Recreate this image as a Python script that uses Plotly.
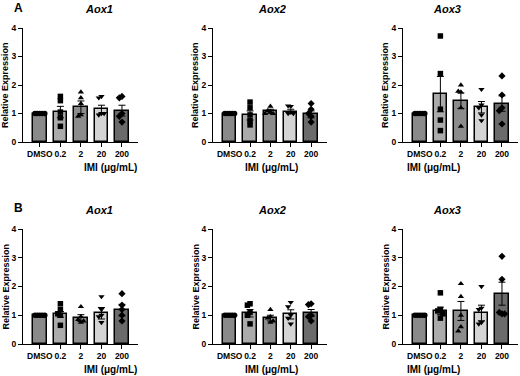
import plotly.graph_objects as go

categories = ["DMSO", "0.2", "2", "20", "200"]
yticks = [0, 1, 2, 3, 4]
panel_titles = ["Aox1", "Aox2", "Aox3"]
row_labels = ["A", "B"]

# mean values
A_aox1_mean = [1.0, 1.05, 1.22, 1.15, 1.10]
A_aox2_mean = [1.0, 0.93, 1.08, 1.07, 0.97]
A_aox3_mean = [1.0, 1.68, 1.45, 1.22, 1.35]
B_aox1_mean = [1.0, 1.03, 0.90, 1.07, 1.18]
B_aox2_mean = [1.0, 1.07, 0.90, 1.03, 1.08]
B_aox3_mean = [1.0, 1.15, 1.15, 1.08, 1.75]

# SEM values
A_aox1_sem = [0.0, 0.20, 0.22, 0.14, 0.19]
A_aox2_sem = [0.0, 0.16, 0.07, 0.08, 0.12]
A_aox3_sem = [0.0, 0.62, 0.27, 0.20, 0.27]
B_aox1_sem = [0.0, 0.10, 0.12, 0.20, 0.20]
B_aox2_sem = [0.0, 0.13, 0.10, 0.16, 0.12]
B_aox3_sem = [0.0, 0.13, 0.33, 0.27, 0.40]

# individual replicate points per group
A_aox1_pts = [[1, 1, 1, 1, 1], [1.6, 1.45, 1.05, 0.85, 0.55], [1.75, 1.55, 1.35, 0.95, 0.9],
              [1.6, 1.55, 1.0, 0.95, 1.0], [1.6, 1.55, 1.0, 0.9, 0.7]]
A_aox2_pts = [[1, 1, 1, 1, 1], [1.4, 1.2, 0.95, 0.75, 0.6], [1.25, 1.1, 1.05, 1.0, 1.0],
              [1.25, 1.27, 1.05, 1.0, 1.0], [1.35, 1.15, 1.0, 0.9, 0.7]]
A_aox3_pts = [[1, 1, 1, 1, 1], [3.72, 2.4, 1.15, 0.77, 0.4], [2.0, 1.75, 1.78, 1.2, 0.55],
              [1.85, 1.3, 1.2, 0.95, 0.75], [2.32, 1.65, 1.2, 1.1, 0.63]]
B_aox1_pts = [[1, 1, 1, 1, 1], [1.4, 1.2, 1.05, 1.0, 0.65], [1.3, 0.95, 0.85, 0.8, 0.75],
              [1.65, 1.2, 1.0, 0.95, 0.75], [1.75, 1.35, 1.2, 1.0, 0.8]]
B_aox2_pts = [[1, 1, 1, 1, 1], [1.4, 1.35, 1.1, 1.0, 0.7], [1.2, 0.95, 0.9, 0.8, 0.75],
              [1.45, 1.3, 1.0, 0.9, 0.7], [1.4, 1.37, 1.0, 0.95, 0.8]]
B_aox3_pts = [[1, 1, 1, 1, 1], [1.78, 1.2, 1.15, 1.05, 0.9], [2.1, 1.65, 1.0, 0.6, 0.45],
              [2.0, 1.25, 1.2, 0.75, 0.7], [3.05, 2.25, 1.05, 1.1, 1.05]]

panels = [
    (A_aox1_mean, A_aox1_sem, A_aox1_pts),
    (A_aox2_mean, A_aox2_sem, A_aox2_pts),
    (A_aox3_mean, A_aox3_sem, A_aox3_pts),
    (B_aox1_mean, B_aox1_sem, B_aox1_pts),
    (B_aox2_mean, B_aox2_sem, B_aox2_pts),
    (B_aox3_mean, B_aox3_sem, B_aox3_pts),
]

bar_colors = ["#8a8a8a", "#ababab", "#8c8c8c", "#d4d4d4", "#6b6b6b"]
symbols = ["circle", "square", "triangle-up", "triangle-down", "diamond"]

W, H = 520, 376
x_px = [(23, 138), (213, 327), (403, 518)]
y_px = [(28, 142), (229, 344)]
FONT = "Liberation Sans, Arial, sans-serif"


def swarm(vals, dy=0.15, step=0.13):
    placed = []
    offs = []
    for v in vals:
        cands = [0, -step, step, -2 * step, 2 * step, -3 * step, 3 * step]
        for c in cands:
            ok = all(abs(v - pv) >= dy or abs(c - po) >= step * 0.99 for pv, po in placed)
            if ok:
                break
        placed.append((v, c))
        offs.append(c)
    return offs


fig = go.Figure()
annotations = []
for i, (means, sems, pts) in enumerate(panels):
    r, c = divmod(i, 3)
    n = i + 1
    xa = "x" if n == 1 else f"x{n}"
    ya = "y" if n == 1 else f"y{n}"
    xs = list(range(len(categories)))
    fig.add_trace(go.Bar(
        x=xs, y=means, width=0.66, marker=dict(color=bar_colors, line=dict(color="black", width=1.5)),
        error_y=dict(type="data", array=sems, visible=True, color="black", thickness=1, width=3.5),
        xaxis=xa, yaxis=ya, showlegend=False))
    for g, grp in enumerate(pts):
        if g == 0:
            offs = [-0.24, -0.12, 0.0, 0.12, 0.24]
        else:
            offs = swarm(grp)
        fig.add_trace(go.Scatter(
            x=[g + o for o in offs], y=grp, mode="markers",
            marker=dict(symbol=symbols[g], color="black", size=5.5),
            xaxis=xa, yaxis=ya, showlegend=False, cliponaxis=False))
    x0, x1 = x_px[c]
    y0, y1 = y_px[r]
    common = dict(showline=True, linecolor="black", linewidth=1.3, ticks="outside", ticklen=4,
                  tickwidth=1.2, tickcolor="black", showgrid=False, zeroline=False, tickangle=0,
                  automargin=False,
                  tickfont=dict(family=FONT, size=8.5, color="black", weight="bold"))
    fig.layout[f"xaxis{'' if n == 1 else n}"] = dict(
        domain=[x0 / W, x1 / W], anchor=ya, range=[-0.82, 4.78], tickvals=xs, ticktext=categories,
        fixedrange=True, **common)
    fig.layout[f"yaxis{'' if n == 1 else n}"] = dict(
        domain=[1 - y1 / H, 1 - y0 / H], anchor=xa, range=[0, 4], tickvals=yticks, ticktext=[str(t) for t in yticks],
        **common)
    cx = (x0 + x1) / 2 / W
    annotations.append(dict(text=f"<b><i>{panel_titles[c]}</i></b>", x=cx + 2 / W, y=1 - (y0 - 19) / H,
                            xref="paper", yref="paper", showarrow=False, yanchor="middle",
                            font=dict(family=FONT, size=11, color="black")))
    annotations.append(dict(text="<b>Relative Expression</b>", x=(x0 - 18) / W, y=1 - (y0 + y1) / 2 / H,
                            xref="paper", yref="paper", showarrow=False, textangle=-90,
                            xanchor="center", yanchor="middle",
                            font=dict(family=FONT, size=9, color="black")))
    annotations.append(dict(text="<b>IMI (μg/mL)</b>", x=cx + 1 / W, y=1 - (y1 + 25) / H,
                            xref="paper", yref="paper", showarrow=False, yanchor="middle",
                            font=dict(family=FONT, size=10, color="black")))

for r, lab in enumerate(row_labels):
    annotations.append(dict(text=f"<b>{lab}</b>", x=12 / W, y=1 - (8 if r == 0 else 208) / H,
                            xref="paper", yref="paper", showarrow=False, yanchor="middle",
                            font=dict(family=FONT, size=12, color="black")))

fig.update_layout(width=W, height=H, margin=dict(l=0, r=0, t=0, b=0, autoexpand=False), plot_bgcolor="white",
                  paper_bgcolor="white", annotations=annotations, bargap=0)
fig.write_html("out.html", config={"displayModeBar": False},
               post_script="document.body.style.margin='0px';document.body.style.overflow='hidden';")
